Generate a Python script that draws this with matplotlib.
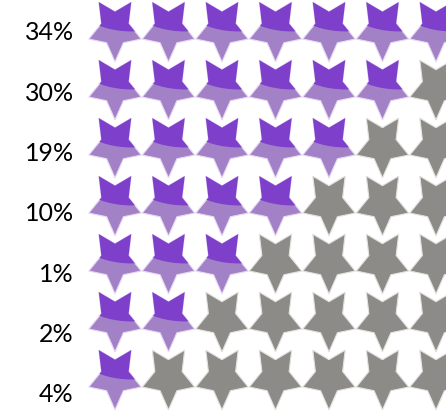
import numpy as np
import matplotlib.pyplot as plt
from matplotlib.patches import Polygon, Ellipse

# shares per rating row, top to bottom
labels = ["34%", "30%", "19%", "10%", "1%", "2%", "4%"]
filled = [7, 6, 5, 4, 3, 2, 1]
n_stars = 7

purple_dark = "#7E3FCB"
purple_light = "#A381C6"
grey = "#8D8B87"


def star_verts(cx, cy, w=0.98, h=1.03):
    # five-point star, one point facing down (y axis is inverted)
    ang = np.deg2rad(90 + np.arange(10) * 36)
    r = np.where(np.arange(10) % 2 == 0, 1.0, 0.52)
    x = r * np.cos(ang)
    y = r * np.sin(ang)
    x = (x - (x.max() + x.min()) / 2) / (x.max() - x.min()) * w
    y = (y - (y.max() + y.min()) / 2) / (y.max() - y.min()) * h
    return np.column_stack([cx + x, cy + y])


def main():
    fig = plt.figure(figsize=(4.46, 4.14), dpi=100)
    ax = fig.add_axes([0, 0, 1, 1])

    for row, (lab, k) in enumerate(zip(labels, filled)):
        for col in range(n_stars):
            v = star_verts(col, row)
            if col < k:
                ax.add_patch(Polygon(v, closed=True, fc=purple_light,
                                     ec="#E6D8F4", lw=0.8))
                top = Polygon(v, closed=True, fc=purple_dark, ec="none")
                ax.add_patch(top)
                clip = Ellipse((col + 0.3, row - 0.76), 2.4, 1.5,
                               transform=ax.transData)
                top.set_clip_path(clip)
            else:
                ax.add_patch(Polygon(v, closed=True, fc=grey,
                                     ec="#E4E2DE", lw=0.8))
        ax.text(-0.77, row + 0.04 * row, lab, ha="right", va="center",
                fontsize=18, family="Lato", color="black")

    ax.set_xlim(-115 / 53.5, (446 - 115) / 53.5)
    ax.set_ylim((414 - 33) / 58, -33 / 58)
    ax.axis("off")
    fig.savefig("out.png", dpi=100)


if __name__ == "__main__":
    main()
